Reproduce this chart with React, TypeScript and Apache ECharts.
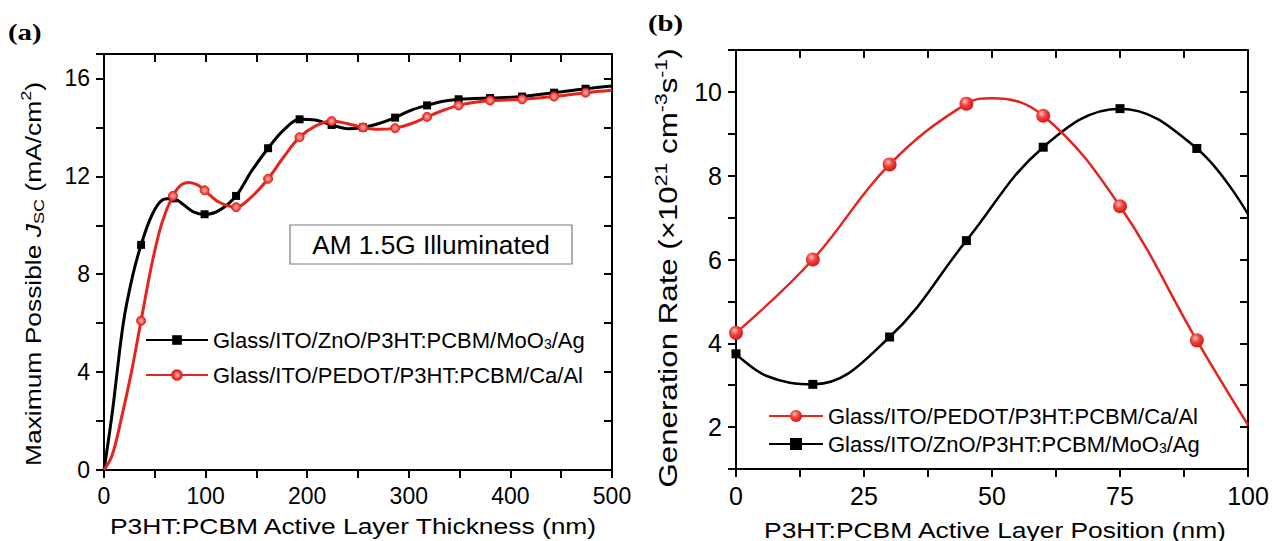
import React, { useEffect, useRef } from "react";
import * as echarts from "echarts";

// ---------- Panel (a): Maximum possible Jsc vs thickness ----------
const aBlackName = "Glass/ITO/ZnO/P3HT:PCBM/MoO3/Ag";
const aRedName = "Glass/ITO/PEDOT/P3HT:PCBM/Ca/Al";
const aBlackX = [0, 8, 19, 28, 36.5, 47, 58, 67.8, 78, 88, 99, 113, 130, 145, 161.5, 177, 192.5, 208, 224, 240, 255, 270, 286.5, 302, 318, 334, 349, 365, 380, 411.5, 443, 474, 500];
const aBlackY = [0, 2.3, 6.0, 7.9, 9.2, 10.4, 11.05, 11.1, 10.85, 10.55, 10.45, 10.6, 11.2, 12.2, 13.15, 13.9, 14.33, 14.3, 14.1, 13.95, 14.0, 14.15, 14.4, 14.7, 14.9, 15.07, 15.15, 15.18, 15.2, 15.26, 15.42, 15.58, 15.69];
const aRedX = [0, 8, 17.6, 27, 36.5, 47, 57, 67.8, 76, 84, 92, 99, 113, 130, 145, 161.5, 177, 192.5, 208, 224, 240, 255, 270, 286.5, 302, 318, 334, 349, 365, 380, 411.5, 443, 474, 500];
const aRedY = [0, 0.6, 2.2, 4.0, 6.1, 8.4, 10.1, 11.2, 11.65, 11.75, 11.65, 11.43, 10.95, 10.74, 11.15, 11.9, 12.8, 13.6, 14.05, 14.26, 14.15, 14.0, 13.92, 13.97, 14.15, 14.43, 14.7, 14.9, 15.03, 15.1, 15.15, 15.26, 15.42, 15.52];
const aMarkerX = [36.5, 67.8, 99, 130, 161.5, 192.5, 224, 255, 286.5, 318, 349, 380, 411.5, 443, 474];
const aXLabels = [0, 100, 200, 300, 400, 500];
const aYLabels = [0, 4, 8, 12, 16];

// ---------- Panel (b): Generation rate vs position ----------
const bRedName = "(b) Glass/ITO/PEDOT/P3HT:PCBM/Ca/Al";
const bBlackName = "(b) Glass/ITO/ZnO/P3HT:PCBM/MoO3/Ag";
const bRedX = [0, 15, 30, 45, 50, 60, 75, 90, 100];
const bRedY = [4.25, 6.0, 8.27, 9.72, 9.85, 9.43, 7.27, 4.07, 2.05];
const bBlackX = [0, 6, 15, 30, 45, 60, 75, 90, 100];
const bBlackY = [3.75, 3.22, 3.02, 4.15, 6.45, 8.68, 9.6, 8.65, 7.08];
const bMarkerX = [0, 15, 30, 45, 60, 75, 90];
const bXLabels = [0, 25, 50, 75, 100];
const bYLabels = [2, 4, 6, 8, 10];

const FONT = "'Liberation Sans', Arial, Helvetica, sans-serif";
const SERIF = "'Liberation Serif', 'Times New Roman', serif";
const RED = "#e5241d";
const BLACK = "#000000";

function buildData(xs: number[], ys: number[], markers: number[]) {
  return xs.map((x, i) => {
    const item: any = { value: [x, ys[i]] };
    if (markers.indexOf(x) < 0) item.symbol = "none";
    return item;
  });
}

const legendText = (name: string) => {
  const n = name.replace(/^\(b\) /, "");
  return n.replace("MoO3", "MoO{sub|3}");
};

function axisPair(gridIndex: number, min: number, max: number, interval: number, labels: number[], fontSize: number, isX: boolean) {
  const common = {
    gridIndex,
    type: "value",
    min,
    max,
    interval,
    splitLine: { show: false },
    axisLine: { show: true, onZero: false, lineStyle: { color: BLACK, width: 2 } },
  };
  const primary = {
    ...common,
    position: isX ? "bottom" : "left",
    axisTick: { show: true, inside: false, length: 8, lineStyle: { color: BLACK, width: 2 } },
    axisLabel: {
      show: true,
      color: BLACK,
      fontSize,
      fontFamily: FONT,
      margin: 14,
      formatter: (v: number) => (labels.indexOf(v) >= 0 ? String(v) : ""),
    },
  };
  const secondary = {
    ...common,
    position: isX ? "top" : "right",
    axisTick: { show: true, inside: true, length: 8, lineStyle: { color: BLACK, width: 2 } },
    axisLabel: { show: false },
  };
  return [primary, secondary];
}

function richSet(size: number) {
  const s = Math.round(size * 0.66);
  return {
    n: { fontSize: size, fontFamily: FONT, fill: BLACK, color: BLACK, lineHeight: Math.round(size * 1.25) },
    i: { fontSize: size, fontFamily: FONT, fill: BLACK, color: BLACK, fontStyle: "italic", lineHeight: Math.round(size * 1.25) },
    sub: { fontSize: s, fontFamily: FONT, fill: BLACK, color: BLACK, verticalAlign: "bottom", lineHeight: s },
    sup: { fontSize: s, fontFamily: FONT, fill: BLACK, color: BLACK, verticalAlign: "top", lineHeight: s },
  };
}

function nameText(text: string, x: number, y: number, size: number, scaleX: number, rotated: boolean) {
  return {
    type: "text",
    x,
    y,
    rotation: rotated ? Math.PI / 2 : 0,
    scaleX,
    scaleY: 1,
    style: {
      text,
      rich: richSet(size),
      fill: BLACK,
      font: `${size}px ${FONT}`,
      textAlign: "center",
      textVerticalAlign: "middle",
    },
  };
}

export default function App() {
  const ref = useRef<HTMLDivElement>(null);

  useEffect(() => {
    if (!ref.current) return;
    const chart = echarts.init(ref.current, null, { renderer: "svg" });

    const redGradA = new echarts.graphic.RadialGradient(0.5, 0.5, 0.5, [
      { offset: 0, color: "#ffb0b0" },
      { offset: 0.55, color: "#f06a64" },
      { offset: 1, color: RED },
    ]);
    const redGradB = new echarts.graphic.RadialGradient(0.4, 0.35, 0.6, [
      { offset: 0, color: "#ffc8c8" },
      { offset: 0.45, color: "#f04a44" },
      { offset: 1, color: "#d81e18" },
    ]);

    const [ax0, ax1] = axisPair(0, 0, 500, 50, aXLabels, 23, true);
    const [ay0, ay1] = axisPair(0, 0, 17, 2, aYLabels, 23, false);
    const [bx0, bx1] = axisPair(1, 0, 100, 12.5, bXLabels, 25, true);
    const [by0, by1] = axisPair(1, 1, 11, 1, bYLabels, 25, false);

    const legendRich = {
      sub: { fontSize: 14, fontFamily: FONT, color: BLACK, verticalAlign: "bottom", lineHeight: 1 },
    };

    const option: any = {
      animation: false,
      backgroundColor: "#ffffff",
      grid: [
        { left: 104, top: 54, width: 508, height: 416 },
        { left: 736, top: 50, width: 512, height: 419 },
      ],
      xAxis: [ax0, ax1, bx0, bx1],
      yAxis: [ay0, ay1, by0, by1],
      legend: [
        {
          orient: "vertical",
          left: 145,
          top: 329,
          padding: 0,
          itemWidth: 62,
          itemHeight: 12,
          itemGap: 13,
          data: [aBlackName, aRedName],
          formatter: legendText,
          textStyle: { color: BLACK, fontSize: 22, fontFamily: FONT, rich: legendRich },
          selectedMode: false,
        },
        {
          orient: "vertical",
          left: 768,
          top: 405,
          padding: 0,
          itemWidth: 54,
          itemHeight: 15,
          itemGap: 6,
          data: [bRedName, bBlackName],
          formatter: legendText,
          textStyle: { color: BLACK, fontSize: 22, fontFamily: FONT, rich: legendRich },
          selectedMode: false,
        },
      ],
      graphic: [
        { type: "text", x: 8, y: 32, scaleX: 1.2, style: { text: "(a)", fill: BLACK, font: `bold 24px ${SERIF}`, textAlign: "left", textVerticalAlign: "middle" } },
        { type: "text", x: 648, y: 23, scaleX: 1.2, style: { text: "(b)", fill: BLACK, font: `bold 24px ${SERIF}`, textAlign: "left", textVerticalAlign: "middle" } },
        nameText("{n|P3HT:PCBM Active Layer Thickness (nm)}", 353, 526, 22, 1.2, false),
        nameText("{n|Maximum Possible }{i|J}{sub|SC}{n| (mA/cm}{sup|2}{n|)}", 33, 274, 22, 1.2, true),
        nameText("{n|P3HT:PCBM Active Layer Position (nm)}", 995, 530, 22, 1.2, false),
        nameText("{n|Generation Rate (×10}{sup|21}{n| cm}{sup|-3}{n|s}{sup|-1}{n|)}", 668, 268, 25, 1.25, true),
        {
          type: "group",
          x: 290,
          y: 225,
          children: [
            { type: "rect", shape: { x: 0, y: 0, width: 282, height: 39 }, style: { fill: "#fff", stroke: "#7a7a7a", lineWidth: 1.2 } },
            { type: "text", x: 141, y: 20, scaleX: 1.05, style: { text: "AM 1.5G Illuminated", fill: BLACK, font: `25px ${FONT}`, textAlign: "center", textVerticalAlign: "middle" } },
          ],
        },
      ],
      series: [
        {
          name: aBlackName,
          type: "line",
          xAxisIndex: 0,
          yAxisIndex: 0,
          smooth: 0.35,
          showAllSymbol: true,
          symbol: "rect",
          symbolSize: 8,
          lineStyle: { color: BLACK, width: 3 },
          itemStyle: { color: BLACK },
          data: buildData(aBlackX, aBlackY, aMarkerX),
          z: 2,
        },
        {
          name: aRedName,
          type: "line",
          xAxisIndex: 0,
          yAxisIndex: 0,
          smooth: 0.35,
          showAllSymbol: true,
          symbol: "circle",
          symbolSize: 9,
          lineStyle: { color: RED, width: 3 },
          itemStyle: { color: redGradA, borderColor: RED, borderWidth: 1 },
          data: buildData(aRedX, aRedY, aMarkerX),
          z: 3,
        },
        {
          name: bBlackName,
          type: "line",
          xAxisIndex: 2,
          yAxisIndex: 2,
          smooth: 0.4,
          showAllSymbol: true,
          symbol: "rect",
          symbolSize: 9,
          lineStyle: { color: BLACK, width: 2.5 },
          itemStyle: { color: BLACK },
          data: buildData(bBlackX, bBlackY, bMarkerX),
          z: 2,
        },
        {
          name: bRedName,
          type: "line",
          xAxisIndex: 2,
          yAxisIndex: 2,
          smooth: 0.4,
          showAllSymbol: true,
          symbol: "circle",
          symbolSize: 14,
          lineStyle: { color: RED, width: 2.5 },
          itemStyle: { color: redGradB },
          data: buildData(bRedX, bRedY, bMarkerX),
          z: 3,
        },
      ],
    };

    chart.setOption(option);
    return () => chart.dispose();
  }, []);

  return (
    <div
      ref={ref}
      style={{ position: "fixed", left: 0, top: 0, width: 1272, height: 541, background: "#fff" }}
    />
  );
}
